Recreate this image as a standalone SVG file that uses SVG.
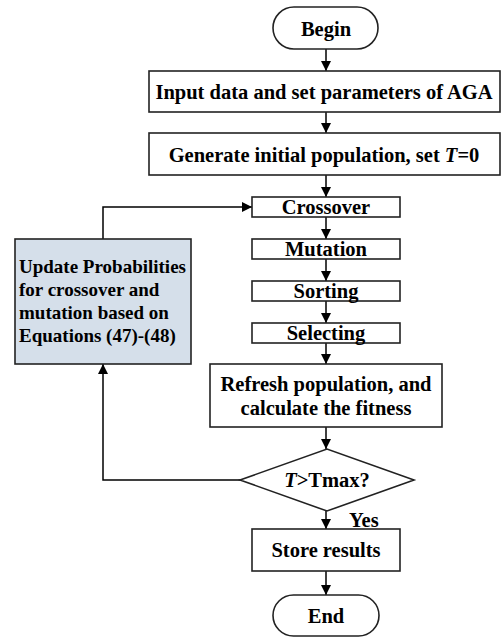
<svg xmlns="http://www.w3.org/2000/svg" width="504" height="637" viewBox="0 0 504 637">
<defs>
<marker id="ah" viewBox="0 0 10 10" refX="10" refY="5" markerWidth="10" markerHeight="10" markerUnits="userSpaceOnUse" orient="auto">
<path d="M0,0 L10,5 L0,10 z" fill="#000"/>
</marker>
<style>
.box{fill:#fff;stroke:#222;stroke-width:1.6}
.blue{fill:#d5dfea;stroke:#222;stroke-width:1.6}
.t{font-family:"Liberation Serif","Times New Roman",serif;font-weight:bold;font-size:20.5px;fill:#000;text-anchor:middle}
.tl{font-family:"Liberation Serif","Times New Roman",serif;font-weight:bold;font-size:19px;fill:#000}
.y{font-family:"Liberation Serif","Times New Roman",serif;font-weight:bold;font-size:20.5px;fill:#000}
.c{fill:none;stroke:#000;stroke-width:1.5;marker-end:url(#ah)}
</style>
</defs>
<rect width="504" height="637" fill="#fff"/>
<g id="connectors">
<path class="c" d="M326,49 V71"/>
<path class="c" d="M326,112 V133"/>
<path class="c" d="M326,175 V197"/>
<path class="c" d="M326,217 V239"/>
<path class="c" d="M326,259 V281"/>
<path class="c" d="M326,301 V323"/>
<path class="c" d="M326,343 V364"/>
<path class="c" d="M326,427 V449"/>
<path class="c" d="M326,511 V529"/>
<path class="c" d="M326,571 V595"/>
<path class="c" d="M103,239 V207 H252"/>
<path class="c" d="M240,480 H103 V364"/>
<text class="y" x="349" y="527">Yes</text>
</g>
<g id="begin"><rect class="box" x="273" y="7" width="105" height="42" rx="21"/><text class="t" x="326" y="36">Begin</text></g>
<g id="input"><rect class="box" x="149" y="71" width="351" height="41"/><text class="t" x="324" y="99">Input data and set parameters of AGA</text></g>
<g id="generate"><rect class="box" x="149" y="133" width="351" height="42"/><text class="t" x="324" y="162">Generate initial population, set <tspan font-style="italic">T</tspan>=0</text></g>
<g id="crossover"><rect class="box" x="252" y="197" width="148" height="20"/><text class="t" x="326" y="214">Crossover</text></g>
<g id="mutation"><rect class="box" x="252" y="239" width="148" height="20"/><text class="t" x="326" y="256">Mutation</text></g>
<g id="sorting"><rect class="box" x="252" y="281" width="148" height="20"/><text class="t" x="326" y="298">Sorting</text></g>
<g id="selecting"><rect class="box" x="252" y="323" width="148" height="20"/><text class="t" x="326" y="340">Selecting</text></g>
<g id="refresh"><rect class="box" x="210" y="364" width="232" height="63"/><text class="t" x="326" y="391">Refresh population, and</text><text class="t" x="326" y="415">calculate the fitness</text></g>
<g id="update"><rect class="blue" x="15" y="239" width="176" height="125"/>
<text class="tl" x="19" y="273">Update Probabilities</text>
<text class="tl" x="19" y="296">for crossover and</text>
<text class="tl" x="19" y="319">mutation based on</text>
<text class="tl" x="19" y="342">Equations (47)-(48)</text></g>
<g id="decision"><polygon class="box" points="240,480 327,449 414,480 327,511"/><text class="t" x="327" y="487"><tspan font-style="italic">T</tspan>&gt;Tmax?</text></g>
<g id="store"><rect class="box" x="252" y="529" width="148" height="42"/><text class="t" x="326" y="557">Store results</text></g>
<g id="end"><rect class="box" x="273" y="595" width="106" height="41" rx="20.5"/><text class="t" x="326" y="623">End</text></g>
</svg>
